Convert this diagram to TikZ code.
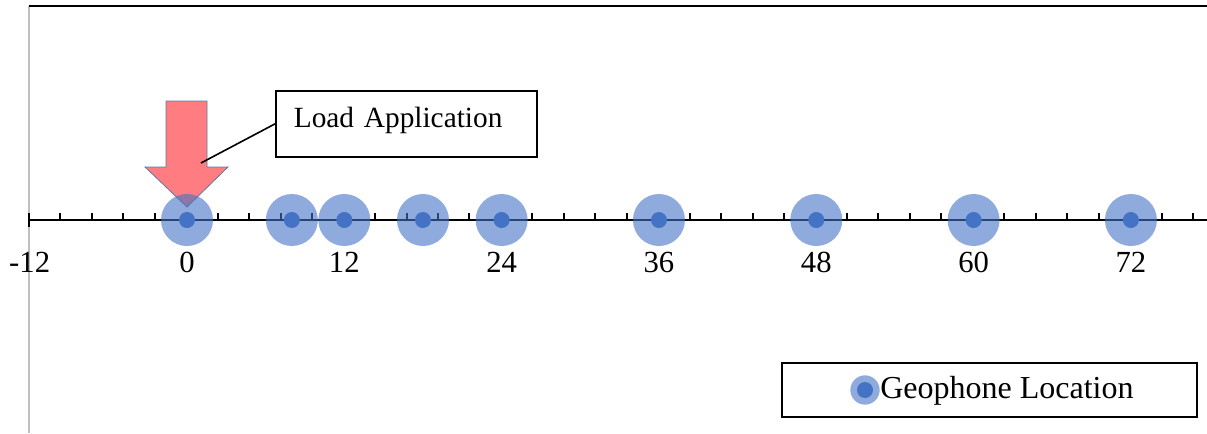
\documentclass[tikz,border=0pt]{standalone}
\usepackage{fontspec}
\setmainfont{Liberation Serif}
\usetikzlibrary{positioning}
\definecolor{geoBlue}{HTML}{4472C4}
\definecolor{loadRed}{HTML}{FF7C80}
\definecolor{frameGray}{HTML}{BFBFBF}
\tikzset{
    geophone/.pic={
		\fill[geoBlue, opacity=0.6] (0,0) circle (#1);
		\fill[geoBlue] (0,0) circle (6pt);
	}
}
\tikzset{
    loadArrow/.pic={
		\filldraw[fill=loadRed, draw=geoBlue!50!gray, line width=0.6pt]
			(-21,-119) -- (20,-119) -- (20,-53) -- (41,-53) -- (0,-13)
			-- (-42,-53) -- (-21,-53) -- cycle;
	}
}
\tikzset{
    axisLine/.style={black, line width=1.5pt},
    tickLabel/.style={font=\fontsize{23}{26}\selectfont},
    textBox/.style={draw, line width=1.3pt, inner sep=0pt, font=\fontsize{22}{26}\selectfont}
}

\begin{document}
\begin{tikzpicture}[x=0.75pt, y=-0.75pt]
			\useasboundingbox (0,0) rectangle (1207,433);
			% frame of the plot area
			\draw[frameGray, line width=1.5pt] (29,6) -- (29,433);
			\draw[axisLine] (29,6) -- (1207,6);
			% load arrow sits below the geophones
			\pic at(187,220) {loadArrow};
			% distance axis with minor ticks every 2.4
			\draw[axisLine] (29,213) -- (29,227);
			\draw[axisLine] (29,220) -- (1207,220);
			\foreach \k in {1,...,37}
				\draw[axisLine] ({29+\k*31.46},220) -- ++(0,-7);
			\foreach \v in {-12,0,...,72}
				\node[tickLabel] (lab\v) at ({187+\v*13.11},262) {\v};
			% geophones
			\foreach \g in {0,8,12,18,24,36,48,60,72}
				\pic at({187+\g*13.11},220) {geophone={19.5pt}};
			% callout
			\node[textBox, anchor=north west, inner xsep=13.5pt, text width=168.75pt, align=left,
				text height=27.75pt, text depth=21.75pt] (load) at (275,90) {Load Application};
			\coordinate (arrowMid) at (201,163);
			\draw[line width=1.2pt] (load.west) -- (arrowMid);
			% legend
			\node[textBox, minimum width=415*0.75pt, minimum height=54*0.75pt] (legend) at (989.5,390) {};
			\pic at(865,390) {geophone={11pt}};
			\node[anchor=west, inner sep=0pt, font=\fontsize{24}{26}\selectfont] (legendText) at (880,391) {Geophone Location};
		\end{tikzpicture}
\end{document}
